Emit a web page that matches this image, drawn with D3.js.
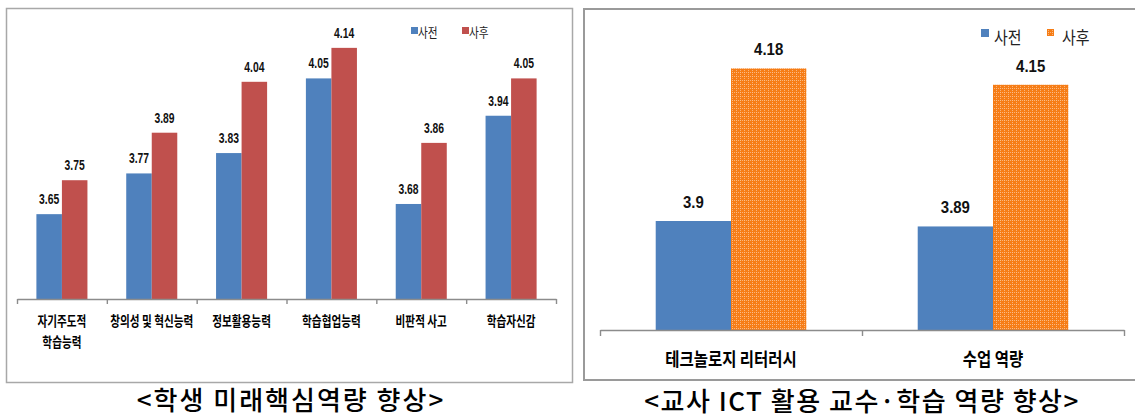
<!DOCTYPE html>
<html><head><meta charset="utf-8">
<script src="https://cdn.jsdelivr.net/npm/d3@7"></script>
<style>
html,body{margin:0;padding:0;background:#fff;}
svg{display:block;}
</style></head>
<body>
<svg id="c" width="1135" height="418"></svg>
<script>
// ---- data ----
const seriesNames = ["사전", "사후"];
const catsLeft = ["자기주도적\n학습능력", "창의성 및 혁신능력", "정보활용능력", "학습협업능력", "비판적 사고", "학습자신감"];
const preLeft = [3.65, 3.77, 3.83, 4.05, 3.68, 3.94];
const postLeft = [3.75, 3.89, 4.04, 4.14, 3.86, 4.05];
const catsRight = ["테크놀로지 리터러시", "수업 역량"];
const preRight = [3.9, 3.89];
const postRight = [4.18, 4.15];
const titleLeft = "<학생 미래핵심역량 향상>";
const titleRight = "<교사 ICT 활용 교수·학습 역량 향상>";

const svg = d3.select("#c");
const KR = "'Noto Sans CJK KR','Noto Sans',sans-serif";
const NUM = "'Liberation Sans',Arial,sans-serif";

// pattern for orange bars
const defs = svg.append("defs");
const pat = defs.append("pattern").attr("id","dots").attr("patternUnits","userSpaceOnUse")
  .attr("width",4).attr("height",4);
pat.append("rect").attr("width",4).attr("height",4).attr("fill","#f67d16");
pat.append("rect").attr("x",0).attr("y",0).attr("width",1).attr("height",1).attr("fill","#fcc18c");
pat.append("rect").attr("x",2).attr("y",0).attr("width",1).attr("height",1).attr("fill","#fab27a");
pat.append("rect").attr("x",0).attr("y",2).attr("width",1).attr("height",1).attr("fill","#fab27a");

// frames
svg.append("rect").attr("x",6.5).attr("y",8.5).attr("width",566).attr("height",374)
  .attr("fill","none").attr("stroke","#a8a8a8").attr("stroke-width",1.5);
svg.append("rect").attr("x",584).attr("y",9).attr("width",560).attr("height",371)
  .attr("fill","none").attr("stroke","#9a9a9a").attr("stroke-width",2);

function scaledText(g, x, y, txt, opts){
  const t = g.append("text")
    .attr("transform", `translate(${x},${y}) scale(${opts.sx||1},1)`)
    .attr("text-anchor", opts.anchor || "middle")
    .attr("font-family", opts.family)
    .attr("font-size", opts.size)
    .attr("font-weight", opts.weight || "normal")
    .attr("fill", opts.fill || "#000")
    .text(txt);
  if (opts.ls) t.attr("letter-spacing", opts.ls);
  return t;
}

function drawChart(cfg){
  const g = svg.append("g");
  const x = d3.scaleBand().domain(cfg.cats).range(cfg.xr).padding(0);
  const xs = d3.scaleBand().domain([0,1]).range([0, x.step()]).paddingInner(0).paddingOuter(cfg.pad);
  const y = d3.scaleLinear().domain(cfg.yd).range(cfg.yr);
  const series = [cfg.pre, cfg.post];
  series.forEach((vals, si) => {
    g.selectAll(null).data(vals).enter().append("rect")
      .attr("x", (d,i) => x(cfg.cats[i]) + xs(si))
      .attr("y", d => y(d))
      .attr("width", xs.bandwidth())
      .attr("height", d => y(cfg.yd[0]) - y(d))
      .attr("fill", cfg.fills[si]);
    vals.forEach((d,i) => {
      scaledText(g, x(cfg.cats[i]) + xs(si) + xs.bandwidth()/2, y(d) - cfg.labGap, String(d),
        {family: NUM, size: cfg.numSize, weight: "bold", sx: cfg.numSx, fill: "#111"});
    });
  });
  // axis
  const bx = d3.scaleLinear().domain([0, cfg.cats.length]).range(cfg.xr);
  const ax = g.append("g").attr("transform", `translate(0,${y(cfg.yd[0])})`)
    .call(d3.axisBottom(bx).tickValues(d3.range(cfg.cats.length+1)).tickSizeInner(cfg.tick).tickSizeOuter(0).tickFormat(""));
  ax.select(".domain").attr("stroke", "#8c8c8c").attr("stroke-width", 1.6);
  ax.selectAll(".tick line").attr("stroke", "#8c8c8c").attr("stroke-width", 1.4);
  // category labels
  cfg.cats.forEach(c => {
    c.split("\n").forEach((line, li) => {
      scaledText(g, x(c) + x.bandwidth()/2, cfg.catY + li*cfg.catLH, line,
        {family: KR, size: cfg.catSize, weight: "bold", sx: cfg.catSx});
    });
  });
  // legend
  cfg.legend.forEach((L, i) => {
    g.append("rect").attr("x", L.x).attr("y", L.y).attr("width", L.s).attr("height", L.s).attr("fill", cfg.fills[i]);
    scaledText(g, L.tx, L.ty, seriesNames[i], {family: KR, size: L.size, sx: L.sx, anchor: "start", fill: "#222"});
  });
  // title
  scaledText(g, cfg.titleX, cfg.titleY, cfg.title, {family: KR, size: 26, weight: 500, ls: cfg.titleLS, fill: "#000"});
}

drawChart({
  cats: catsLeft, pre: preLeft, post: postLeft,
  xr: [17, 556], pad: 0.76, yd: [3.4, 4.2], yr: [299, 27.5],
  fills: ["#4f81bd", "#c0504d"],
  labGap: 10, numSize: 14, numSx: 0.74, tick: 5,
  catY: 326, catLH: 21, catSize: 14, catSx: 0.76,
  legend: [{x:411, y:27, s:7, tx:418, ty:37, size:13, sx:0.82},
           {x:462, y:27, s:7, tx:469, ty:37, size:13, sx:0.82}],
  title: titleLeft, titleX: 291, titleY: 410, titleLS: "2px"
});

drawChart({
  cats: catsRight, pre: preRight, post: postRight,
  xr: [600, 1124], pad: 0.74, yd: [3.7, 4.3], yr: [330, 3],
  fills: ["#4f81bd", "url(#dots)"],
  labGap: 13, numSize: 17, numSx: 0.88, tick: 6,
  catY: 366, catLH: 20, catSize: 18, catSx: 0.86,
  legend: [{x:981, y:29, s:8, tx:994, ty:44, size:17, sx:0.88},
           {x:1047, y:29, s:7, tx:1062, ty:44, size:17, sx:0.88}],
  title: titleRight, titleX: 862, titleY: 411, titleLS: "1.5px"
});
</script>
</body></html>
